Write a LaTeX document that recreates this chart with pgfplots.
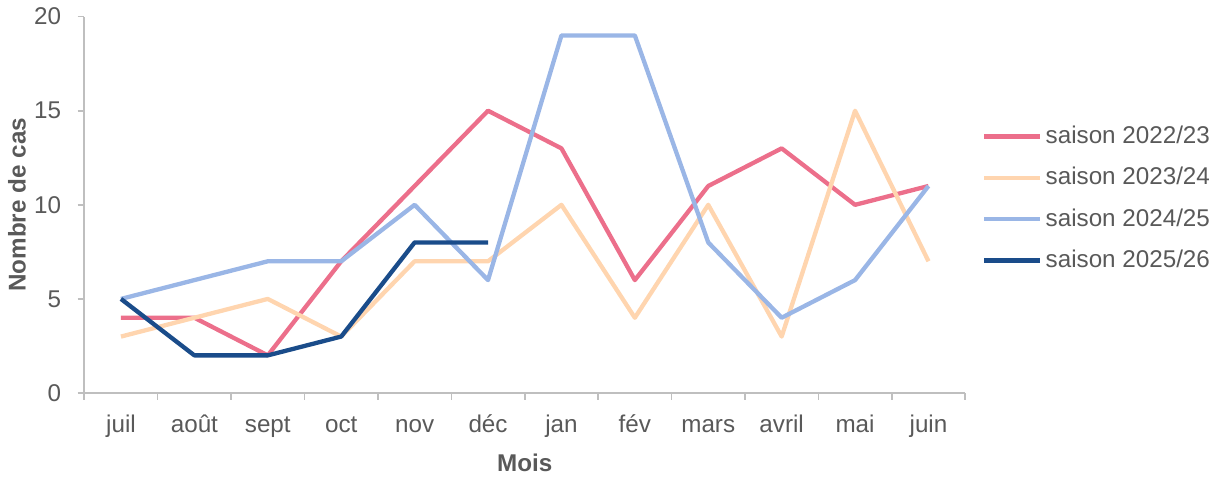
\documentclass[border=0pt]{standalone}
\usepackage{pgfplots}
\pgfplotsset{compat=1.18}
\usepackage{fontspec}
\setmainfont{Liberation Sans}
\definecolor{cpink}{HTML}{EC6F8B}
\definecolor{cpeach}{HTML}{FFD5AF}
\definecolor{clblue}{HTML}{9AB6E6}
\definecolor{cdblue}{HTML}{1A4C8A}
\definecolor{ctext}{HTML}{595959}
\definecolor{caxis}{HTML}{BFBFBF}
\begin{document}
\fontsize{18pt}{21pt}\selectfont
\begin{tikzpicture}
\begin{axis}[
  scale only axis,
  width=654.75pt, height=279.75pt,
  xmin=-0.5, xmax=11.5, ymin=0, ymax=20,
  axis x line=bottom, axis y line=left,
  axis line style={draw=caxis, line width=1.2pt, -},
  xtick={0,...,11},
  xticklabels={juil,août,sept,oct,nov,déc,jan,fév,mars,avril,mai,juin},
  minor xtick={-0.5,0.5,...,11.5},
  ytick={0,5,...,20},
  tick align=outside,
  x tick style={draw=none},
  minor x tick style={draw=caxis, line width=1.2pt},
  y tick style={draw=caxis, line width=1.2pt},
  minor tick length=5pt,
  major tick length=5pt,
  /pgf/number format/assume math mode=true,
  ticklabel style={font=\fontsize{18pt}{21pt}\selectfont, text=ctext},
  xticklabel style={yshift=-5pt, text height=13pt, text depth=4pt},
  yticklabel style={xshift=-6pt},
  xlabel={\textbf{Mois}},
  ylabel={\textbf{Nombre de cas}},
  label style={font=\fontsize{18pt}{21pt}\selectfont, text=ctext},
  xlabel style={yshift=0pt},
  ylabel style={yshift=-6pt},
  legend style={draw=none, fill=none, at={(1.019,0.517)}, anchor=west,
    font=\fontsize{18pt}{21pt}\selectfont, text=ctext,
    row sep=15pt, inner sep=0pt, nodes={inner xsep=3pt, inner ysep=0pt}},
  legend cell align=left,
  legend image code/.code={\draw[#1, line width=3.2pt] (0cm,0cm) -- (41pt,0cm);},
  every axis plot/.append style={line width=3.2pt, line join=round},
  clip=false,
]
\addplot[cpink] coordinates {(0,4)(1,4)(2,2)(3,7)(4,11)(5,15)(6,13)(7,6)(8,11)(9,13)(10,10)(11,11)};
\addlegendentry{saison 2022/23}
\addplot[cpeach] coordinates {(0,3)(1,4)(2,5)(3,3)(4,7)(5,7)(6,10)(7,4)(8,10)(9,3)(10,15)(11,7)};
\addlegendentry{saison 2023/24}
\addplot[clblue] coordinates {(0,5)(1,6)(2,7)(3,7)(4,10)(5,6)(6,19)(7,19)(8,8)(9,4)(10,6)(11,11)};
\addlegendentry{saison 2024/25}
\addplot[cdblue] coordinates {(0,5)(1,2)(2,2)(3,3)(4,8)(5,8)};
\addlegendentry{saison 2025/26}
\end{axis}
\end{tikzpicture}
\end{document}
